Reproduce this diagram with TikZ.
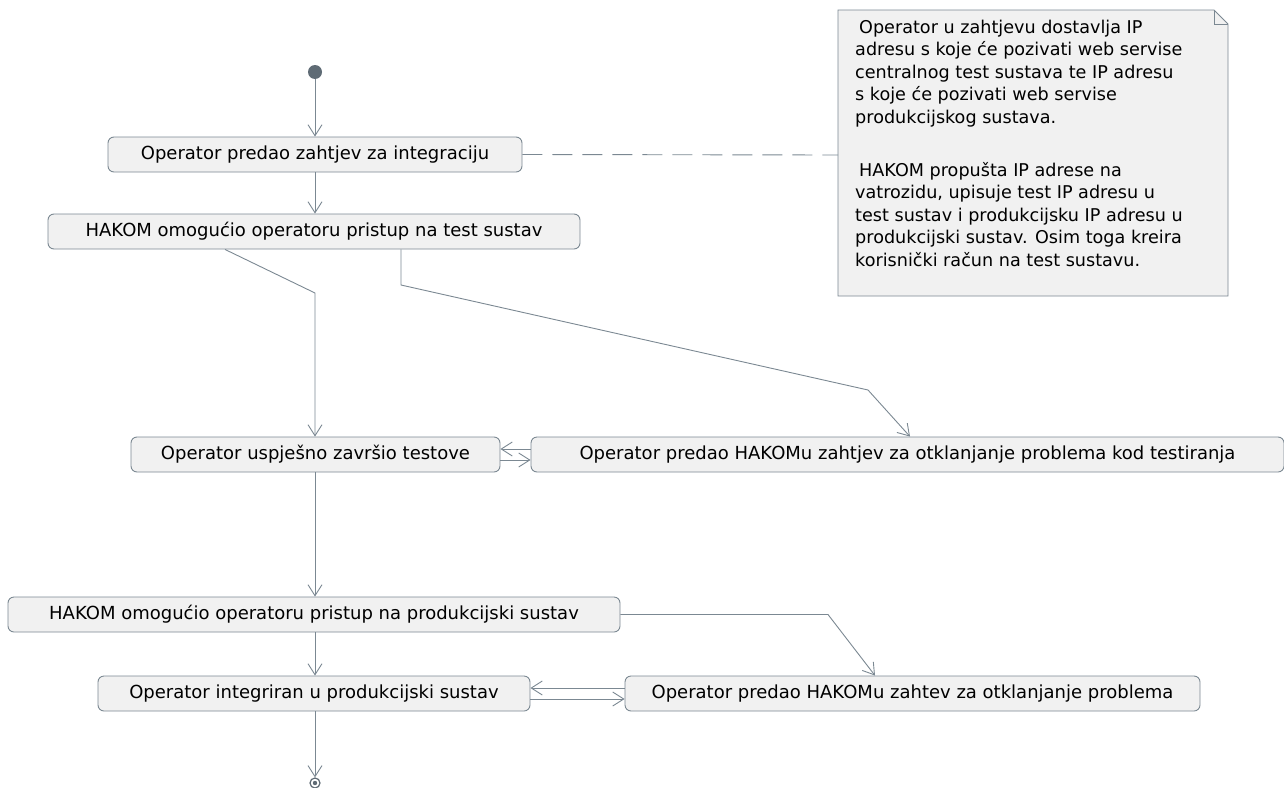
\documentclass[tikz,border=0pt]{standalone}
\usepackage{fontspec}
\setmainfont{DejaVu Sans}
\usetikzlibrary{arrows.meta,backgrounds}
\definecolor{edgec}{HTML}{7B8892}
\definecolor{boxc}{HTML}{F1F1F1}
\definecolor{dotc}{HTML}{5F6B75}
\begin{document}
\begin{tikzpicture}[x=1pt,y=-1pt,
  act/.style={draw=edgec,fill=boxc,rounded corners=6pt,minimum height=35pt,inner sep=0pt,
    line width=0.9pt,font=\fontsize{18}{21}\selectfont},
  flow/.style={draw=edgec,line width=0.9pt,-{Straight Barb[length=11pt,width=14pt]}},
  startnode/.style={circle,fill=dotc,minimum size=14pt,inner sep=0pt},
  endnode/.style={circle,draw=dotc,line width=1.2pt,minimum size=10pt,inner sep=0pt,
    path picture={\fill[dotc] (path picture bounding box.center) circle (2.2pt);}},
  notetext/.style={align=left,inner sep=0pt,font=\fontsize{17.6}{22.5}\selectfont},
  noteline/.style={draw=edgec,line width=0.9pt,dash pattern=on 20pt off 10pt}]

    \useasboundingbox (0,0) rectangle (1284,787);

    \node[startnode] (start) at (315,72) {};
    \node[act,minimum width=414pt] (integ) at (315,154.5) {Operator predao zahtjev za integraciju};
    \node[act,minimum width=532pt] (testacc) at (314,231.5) {HAKOM omogućio operatoru pristup na test sustav};
    \node[act,minimum width=369pt] (testok) at (315.5,454.5) {Operator uspješno završio testove};
    \node[act,minimum width=753pt] (testfix) at (907.5,454.5) {Operator predao HAKOMu zahtjev za otklanjanje problema kod testiranja};
    \node[act,minimum width=612pt] (prodacc) at (314,614.5) {HAKOM omogućio operatoru pristup na produkcijski sustav};
    \node[act,minimum width=432pt] (prodok) at (314,693.5) {Operator integriran u produkcijski sustav};
    \node[act,minimum width=575pt] (prodfix) at (912.5,693.5) {Operator predao HAKOMu zahtev za otklanjanje problema};
    \node[endnode] (stop) at (315,783) {};

    \coordinate (note nw) at (838,10);
    \coordinate (note ne) at (1228,10);
    \coordinate (note se) at (1228,296);
    \coordinate (note sw) at (838,296);
    \coordinate (noteleft) at (838,155);
    \node[notetext,anchor=north west] (note) at (855,19.5) {%
      \hspace*{4pt}Operator u zahtjevu dostavlja IP\\
      adresu s koje će pozivati web servise\\
      centralnog test sustava te IP adresu\\
      s koje će pozivati web servise\\
      produkcijskog sustava.\\[30.5pt]
      \hspace*{4pt}HAKOM propušta IP adrese na\\
      vatrozidu, upisuje test IP adresu u\\
      test sustav i produkcijsku IP adresu u\\
      produkcijski sustav. Osim toga kreira\\
      korisnički račun na test sustavu.};
    \begin{scope}[on background layer]
      \draw[draw=edgec,fill=boxc,line width=0.9pt] (note nw) -- ([xshift=-14pt]note ne) -- ([yshift=-14pt]note ne)
        -- (note se) -- (note sw) -- cycle;
      \draw[edgec,line width=0.9pt] ([xshift=-14pt]note ne) -- ([xshift=-14pt,yshift=-14pt]note ne) -- ([yshift=-14pt]note ne);
    \end{scope}

    \coordinate (b1) at (315,293);
    \coordinate (b2) at (401,285);
    \coordinate (b3) at (868,390);
    \coordinate (e1) at (828,614.5);

    \draw[flow] (start) -- (integ);
    \draw[flow] (integ.south) -- (integ.south |- testacc.north);
    \draw[noteline] (integ.east) -- (noteleft);
    \draw[flow] ([xshift=-89pt]testacc.south) -- (b1) -- (testok.north -| b1);
    \draw[flow] ([xshift=87pt]testacc.south) -- (b2) -- (b3) -- ([xshift=2.5pt]testfix.north);
    \draw[flow] ([yshift=5.5pt]testfix.west) -- ([yshift=5.5pt]testok.east);
    \draw[flow] ([yshift=-5.5pt]testok.east) -- ([yshift=-5.5pt]testfix.west);
    \draw[flow] (testok.south -| b1) -- (prodacc.north -| b1);
    \draw[flow] (prodacc.east) -- (e1) -- ([xshift=-37.5pt]prodfix.north);
    \draw[flow] (prodacc.south -| b1) -- (prodok.north -| b1);
    \draw[flow] ([yshift=5.5pt]prodfix.west) -- ([yshift=5.5pt]prodok.east);
    \draw[flow] ([yshift=-5.5pt]prodok.east) -- ([yshift=-5.5pt]prodfix.west);
    \draw[flow] (prodok.south -| b1) -- (stop);
\end{tikzpicture}
\end{document}
